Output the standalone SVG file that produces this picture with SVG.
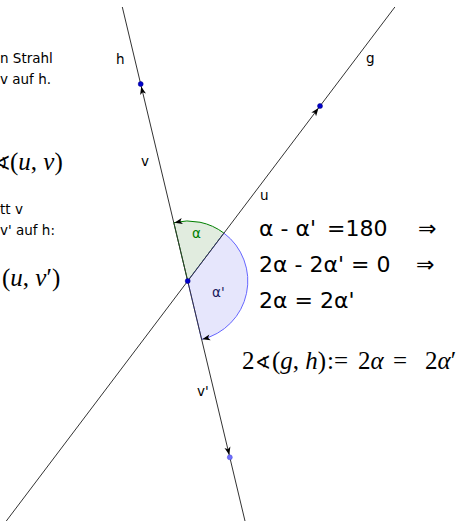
<svg xmlns="http://www.w3.org/2000/svg" width="476" height="521" viewBox="0 0 476 521">
<style>
.ln{stroke:#333;stroke-width:1;fill:none}
.lbl{font-family:"DejaVu Sans",sans-serif;font-size:13.5px;fill:#000}
.big{font-family:"DejaVu Sans",sans-serif;font-size:22px;fill:#000}
.math{font-family:"Liberation Serif",serif;font-size:25px;fill:#000}
.mi{font-style:italic}
.pt{fill:#0000cc;stroke:#00007f;stroke-width:0.5}
.ah{fill:#000}
</style>
<defs>
<path id="arr" d="M0,0 L-8,-3 L-6,0 L-8,3 Z"/>
</defs>
<rect width="476" height="521" fill="#fff"/>
<g id="sectors">
<g id="alpha">
<path d="M187.7,281 L173.8,222.6 A60,60 0 0 1 223.9,233.1 Z" fill="#e1ecdf" stroke="#007f00" stroke-width="1"/>
<use href="#arr" class="ah" transform="translate(174.5,222.8) rotate(167)"/>
<text x="192" y="238" class="lbl" style="fill:#007f00">α</text>
</g>
<g id="alphaPrime">
<path d="M187.7,281 L223.9,233.1 A60,60 0 0 1 201.6,339.4 Z" fill="#e6e6fc" stroke="#6666ff" stroke-width="1"/>
<use href="#arr" class="ah" transform="translate(202.2,339.2) rotate(167)"/>
<text x="212" y="297" class="lbl" style="fill:#1a1a5c">α'</text>
</g>
</g>
<g id="connectors">
<line id="h" class="ln" x1="122.3" y1="7" x2="245" y2="521"/>
<line id="g" class="ln" x1="394.9" y1="7" x2="6.3" y2="521"/>
<use href="#arr" class="ah" transform="translate(141.2,86.5) rotate(-103.4)"/>
<use href="#arr" class="ah" transform="translate(318.5,108) rotate(-52.9)"/>
<use href="#arr" class="ah" transform="translate(229.3,455) rotate(76.6)"/>
</g>
<g id="points">
<circle id="P" class="pt" cx="187.7" cy="281" r="2.5"/>
<circle id="V" class="pt" cx="140.7" cy="84" r="2.5"/>
<circle id="U" class="pt" cx="320" cy="106" r="2.5"/>
<circle id="Vp" cx="229.8" cy="457.3" r="2.5" fill="#6f6fff" stroke="#4c4ccc" stroke-width="0.5"/>
</g>
<g id="labels">
<text x="116" y="64" class="lbl">h</text>
<text x="366" y="63" class="lbl">g</text>
<text x="141" y="166" class="lbl">v</text>
<text x="260" y="200" class="lbl">u</text>
<text x="197" y="396" class="lbl">v'</text>
</g>
<g id="leftText">
<text x="0" y="63" class="lbl">n Strahl</text>
<text x="0" y="84" class="lbl">v auf h.</text>
<text class="math" y="170"><tspan x="-6" font-family="DejaVu Sans" font-size="20">∢</tspan><tspan x="10">(</tspan><tspan class="mi">u</tspan><tspan>, </tspan><tspan class="mi">v</tspan><tspan>)</tspan></text>
<text x="0" y="214" class="lbl">tt v</text>
<text x="0" y="235" class="lbl">v' auf h:</text>
<text class="math" y="286"><tspan x="2">(</tspan><tspan class="mi">u</tspan><tspan>, </tspan><tspan class="mi">v</tspan><tspan>′)</tspan></text>
</g>
<g id="equations">
<text class="big" y="236" xml:space="preserve"><tspan x="259">α - α' </tspan><tspan x="327">=180</tspan><tspan x="418">⇒</tspan></text>
<text class="big" y="272" xml:space="preserve"><tspan x="259">2α - 2α' = 0</tspan><tspan x="416">⇒</tspan></text>
<text class="big" y="308" x="259">2α = 2α'</text>
<text class="math" y="369" font-size="24"><tspan x="242">2</tspan><tspan x="255" font-family="DejaVu Sans" font-size="19">∢</tspan><tspan x="272">(</tspan><tspan class="mi">g</tspan><tspan>, </tspan><tspan class="mi">h</tspan><tspan>)</tspan><tspan x="327">:=</tspan><tspan x="358">2</tspan><tspan class="mi">α</tspan><tspan x="393">=</tspan><tspan x="425">2</tspan><tspan class="mi">α</tspan><tspan>′</tspan></text>
</g>
</svg>
